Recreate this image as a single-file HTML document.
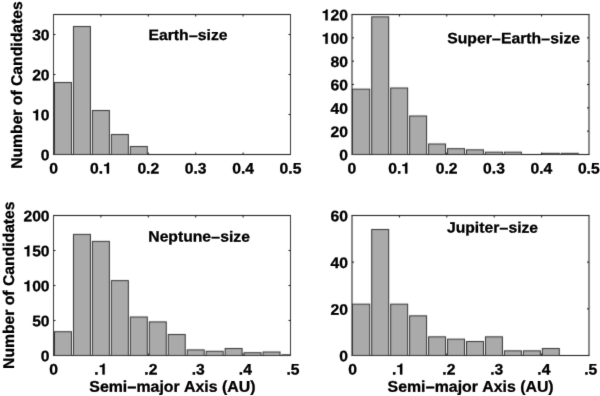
<!DOCTYPE html>
<html><head><meta charset="utf-8"><style>
html,body{margin:0;padding:0;background:#fff;width:600px;height:396px;overflow:hidden}
svg{display:block;will-change:transform}
.h{fill-opacity:0;stroke-opacity:0}
.g1{fill:#000;stroke:#000}
text{text-rendering:geometricPrecision;font-kerning:none;font-family:"Liberation Sans",sans-serif;font-weight:bold;fill:#000;stroke:#000;stroke-width:0.3px}
</style></head><body>
<svg width="600" height="396" viewBox="0 0 600 396">
<filter id="f" color-interpolation-filters="sRGB" filterUnits="userSpaceOnUse" x="0" y="0" width="600" height="396"><feConvolveMatrix order="3" kernelMatrix="0.01716 0.10868 0.01716 0.08568 0.54264 0.08568 0.01716 0.10868 0.01716" edgeMode="duplicate" preserveAlpha="true"/></filter>
<filter id="ft" color-interpolation-filters="sRGB" filterUnits="userSpaceOnUse" x="0" y="0" width="600" height="396"><feConvolveMatrix order="3" kernelMatrix="0.00640 0.06720 0.00640 0.06720 0.70560 0.06720 0.00640 0.06720 0.00640" edgeMode="duplicate" preserveAlpha="false"/></filter>
<g filter="url(#f)">
<rect width="600" height="396" fill="#fff"/>
<path d="M53.0 14.5H291.0M53.0 154.5H291.0" stroke="#111111" fill="none"/>
<path d="M53.5 14.5V154.5M290.5 14.5V154.5" stroke="#3a3a3a" fill="none"/>
<path d="M100.90 154.5v-2M100.90 14.5v2M148.30 154.5v-2M148.30 14.5v2M195.70 154.5v-2M195.70 14.5v2M243.10 154.5v-2M243.10 14.5v2M53.5 114.50h2M290.5 114.50h-2M53.5 74.50h2M290.5 74.50h-2M53.5 34.50h2M290.5 34.50h-2" stroke="#111111" fill="none"/>
<g fill="#aaaaaa" stroke="#333333"><rect x="54.50" y="82.50" width="16.96" height="72.00"/><rect x="73.46" y="26.50" width="16.96" height="128.00"/><rect x="92.42" y="110.50" width="16.96" height="44.00"/><rect x="111.38" y="134.50" width="16.96" height="20.00"/><rect x="130.34" y="146.50" width="16.96" height="8.00"/></g>
<path d="M351.5 14.5H589.5M351.5 154.5H589.5" stroke="#111111" fill="none"/>
<path d="M352.0 14.5V154.5M589.0 14.5V154.5" stroke="#111111" fill="none"/>
<path d="M399.40 154.5v-2M399.40 14.5v2M446.80 154.5v-2M446.80 14.5v2M494.20 154.5v-2M494.20 14.5v2M541.60 154.5v-2M541.60 14.5v2M352.0 131.17h2M589.0 131.17h-2M352.0 107.83h2M589.0 107.83h-2M352.0 84.50h2M589.0 84.50h-2M352.0 61.17h2M589.0 61.17h-2M352.0 37.83h2M589.0 37.83h-2" stroke="#111111" fill="none"/>
<g fill="#aaaaaa" stroke="#333333"><rect x="352.50" y="89.17" width="17.21" height="65.33"/><rect x="371.71" y="16.83" width="16.96" height="137.67"/><rect x="390.67" y="88.00" width="16.96" height="66.50"/><rect x="409.63" y="116.00" width="16.96" height="38.50"/><rect x="428.59" y="144.00" width="16.96" height="10.50"/><rect x="447.55" y="148.67" width="16.96" height="5.83"/><rect x="466.51" y="149.83" width="16.96" height="4.67"/><rect x="485.47" y="152.17" width="16.96" height="2.33"/><rect x="504.43" y="152.17" width="16.96" height="2.33"/><rect x="542.35" y="153.33" width="16.96" height="1.17"/><rect x="561.31" y="153.33" width="16.96" height="1.17"/></g>
<path d="M53.0 215.5H291.0M53.0 355.5H291.0" stroke="#111111" fill="none"/>
<path d="M53.5 215.5V355.5M290.5 215.5V355.5" stroke="#3a3a3a" fill="none"/>
<path d="M100.90 355.5v-2M100.90 215.5v2M148.30 355.5v-2M148.30 215.5v2M195.70 355.5v-2M195.70 215.5v2M243.10 355.5v-2M243.10 215.5v2M53.5 320.50h2M290.5 320.50h-2M53.5 285.50h2M290.5 285.50h-2M53.5 250.50h2M290.5 250.50h-2" stroke="#111111" fill="none"/>
<g fill="#aaaaaa" stroke="#333333"><rect x="54.50" y="331.70" width="16.96" height="23.80"/><rect x="73.46" y="234.40" width="16.96" height="121.10"/><rect x="92.42" y="241.40" width="16.96" height="114.10"/><rect x="111.38" y="280.60" width="16.96" height="74.90"/><rect x="130.34" y="317.00" width="16.96" height="38.50"/><rect x="149.30" y="321.90" width="16.96" height="33.60"/><rect x="168.26" y="334.50" width="16.96" height="21.00"/><rect x="187.22" y="349.90" width="16.96" height="5.60"/><rect x="206.18" y="351.30" width="16.96" height="4.20"/><rect x="225.14" y="348.50" width="16.96" height="7.00"/><rect x="244.10" y="352.70" width="16.96" height="2.80"/><rect x="263.06" y="352.00" width="16.96" height="3.50"/><rect x="282.02" y="354.80" width="8.48" height="0.70"/></g>
<path d="M351.5 215.5H589.5M351.5 355.5H589.5" stroke="#111111" fill="none"/>
<path d="M352.0 215.5V355.5M589.0 215.5V355.5" stroke="#111111" fill="none"/>
<path d="M399.40 355.5v-2M399.40 215.5v2M446.80 355.5v-2M446.80 215.5v2M494.20 355.5v-2M494.20 215.5v2M541.60 355.5v-2M541.60 215.5v2M352.0 308.83h2M589.0 308.83h-2M352.0 262.17h2M589.0 262.17h-2" stroke="#111111" fill="none"/>
<g fill="#aaaaaa" stroke="#333333"><rect x="352.50" y="304.17" width="17.21" height="51.33"/><rect x="371.71" y="229.50" width="16.96" height="126.00"/><rect x="390.67" y="304.17" width="16.96" height="51.33"/><rect x="409.63" y="315.83" width="16.96" height="39.67"/><rect x="428.59" y="336.83" width="16.96" height="18.67"/><rect x="447.55" y="339.17" width="16.96" height="16.33"/><rect x="466.51" y="341.50" width="16.96" height="14.00"/><rect x="485.47" y="336.83" width="16.96" height="18.67"/><rect x="504.43" y="350.83" width="16.96" height="4.67"/><rect x="523.39" y="350.83" width="16.96" height="4.67"/><rect x="542.35" y="348.50" width="16.96" height="7.00"/></g>
</g>
<g filter="url(#ft)"><text transform="translate(49.60 160.35) rotate(0.05) scale(1.0329 1)" font-size="15.2" text-anchor="end">0</text><text transform="translate(49.60 120.35) rotate(0.05) scale(1.0329 1)" font-size="15.2" text-anchor="end"><tspan class="h">1</tspan>0</text><path class="g1" transform="translate(32.14 120.35) scale(0.01570 -0.01520)" d="M378 0V709H285C263 625 190 582 68 582V489H238V0Z" stroke-width="19.7"/><text transform="translate(49.60 80.35) rotate(0.05) scale(1.0329 1)" font-size="15.2" text-anchor="end">20</text><text transform="translate(49.60 40.35) rotate(0.05) scale(1.0329 1)" font-size="15.2" text-anchor="end">30</text><text transform="translate(53.50 173.45) rotate(0.05) scale(1.0329 1)" font-size="15.2" text-anchor="middle">0</text><text transform="translate(100.90 173.45) rotate(0.05) scale(1.0329 1)" font-size="15.2" text-anchor="middle">0.<tspan class="h">1</tspan></text><path class="g1" transform="translate(103.08 173.45) scale(0.01570 -0.01520)" d="M378 0V709H285C263 625 190 582 68 582V489H238V0Z" stroke-width="19.7"/><text transform="translate(148.30 173.45) rotate(0.05) scale(1.0329 1)" font-size="15.2" text-anchor="middle">0.2</text><text transform="translate(195.70 173.45) rotate(0.05) scale(1.0329 1)" font-size="15.2" text-anchor="middle">0.3</text><text transform="translate(243.10 173.45) rotate(0.05) scale(1.0329 1)" font-size="15.2" text-anchor="middle">0.4</text><text transform="translate(290.50 173.45) rotate(0.05) scale(1.0329 1)" font-size="15.2" text-anchor="middle">0.5</text><text transform="translate(148.50 39.90) rotate(0.05) scale(1.0467 1)" font-size="15.0">Earth<tspan dy="1.2">−</tspan><tspan dy="-1.2">size</tspan></text><text transform="translate(347.90 160.35) rotate(0.05) scale(1.0329 1)" font-size="15.2" text-anchor="end">0</text><text transform="translate(347.90 137.02) rotate(0.05) scale(1.0329 1)" font-size="15.2" text-anchor="end">20</text><text transform="translate(347.90 113.68) rotate(0.05) scale(1.0329 1)" font-size="15.2" text-anchor="end">40</text><text transform="translate(347.90 90.35) rotate(0.05) scale(1.0329 1)" font-size="15.2" text-anchor="end">60</text><text transform="translate(347.90 67.02) rotate(0.05) scale(1.0329 1)" font-size="15.2" text-anchor="end">80</text><text transform="translate(347.90 43.68) rotate(0.05) scale(1.0329 1)" font-size="15.2" text-anchor="end"><tspan class="h">1</tspan>00</text><path class="g1" transform="translate(321.71 43.68) scale(0.01570 -0.01520)" d="M378 0V709H285C263 625 190 582 68 582V489H238V0Z" stroke-width="19.7"/><text transform="translate(347.90 20.35) rotate(0.05) scale(1.0329 1)" font-size="15.2" text-anchor="end"><tspan class="h">1</tspan>20</text><path class="g1" transform="translate(321.71 20.35) scale(0.01570 -0.01520)" d="M378 0V709H285C263 625 190 582 68 582V489H238V0Z" stroke-width="19.7"/><text transform="translate(351.80 173.45) rotate(0.05) scale(1.0329 1)" font-size="15.2" text-anchor="middle">0</text><text transform="translate(399.20 173.45) rotate(0.05) scale(1.0329 1)" font-size="15.2" text-anchor="middle">0.<tspan class="h">1</tspan></text><path class="g1" transform="translate(401.38 173.45) scale(0.01570 -0.01520)" d="M378 0V709H285C263 625 190 582 68 582V489H238V0Z" stroke-width="19.7"/><text transform="translate(446.60 173.45) rotate(0.05) scale(1.0329 1)" font-size="15.2" text-anchor="middle">0.2</text><text transform="translate(494.00 173.45) rotate(0.05) scale(1.0329 1)" font-size="15.2" text-anchor="middle">0.3</text><text transform="translate(541.40 173.45) rotate(0.05) scale(1.0329 1)" font-size="15.2" text-anchor="middle">0.4</text><text transform="translate(588.80 173.45) rotate(0.05) scale(1.0329 1)" font-size="15.2" text-anchor="middle">0.5</text><text transform="translate(447.30 43.26) rotate(0.05) scale(1.0467 1)" font-size="15.0">Super<tspan dy="1.2">−</tspan><tspan dy="-1.2">Earth</tspan><tspan dy="1.2">−</tspan><tspan dy="-1.2">size</tspan></text><text transform="translate(49.60 361.35) rotate(0.05) scale(1.0329 1)" font-size="15.2" text-anchor="end">0</text><text transform="translate(49.60 326.35) rotate(0.05) scale(1.0329 1)" font-size="15.2" text-anchor="end">50</text><text transform="translate(49.60 291.35) rotate(0.05) scale(1.0329 1)" font-size="15.2" text-anchor="end"><tspan class="h">1</tspan>00</text><path class="g1" transform="translate(23.41 291.35) scale(0.01570 -0.01520)" d="M378 0V709H285C263 625 190 582 68 582V489H238V0Z" stroke-width="19.7"/><text transform="translate(49.60 256.35) rotate(0.05) scale(1.0329 1)" font-size="15.2" text-anchor="end"><tspan class="h">1</tspan>50</text><path class="g1" transform="translate(23.41 256.35) scale(0.01570 -0.01520)" d="M378 0V709H285C263 625 190 582 68 582V489H238V0Z" stroke-width="19.7"/><text transform="translate(49.60 221.35) rotate(0.05) scale(1.0329 1)" font-size="15.2" text-anchor="end">200</text><text transform="translate(53.50 374.45) rotate(0.05) scale(1.0329 1)" font-size="15.2" text-anchor="middle">0</text><text transform="translate(100.90 374.45) rotate(0.05) scale(1.0329 1)" font-size="15.2" text-anchor="middle">.<tspan class="h">1</tspan></text><path class="g1" transform="translate(98.72 374.45) scale(0.01570 -0.01520)" d="M378 0V709H285C263 625 190 582 68 582V489H238V0Z" stroke-width="19.7"/><text transform="translate(150.90 374.45) rotate(0.05) scale(1.0329 1)" font-size="15.2" text-anchor="middle">.2</text><text transform="translate(198.20 374.45) rotate(0.05) scale(1.0329 1)" font-size="15.2" text-anchor="middle">.3</text><text transform="translate(245.40 374.45) rotate(0.05) scale(1.0329 1)" font-size="15.2" text-anchor="middle">.4</text><text transform="translate(293.00 374.45) rotate(0.05) scale(1.0329 1)" font-size="15.2" text-anchor="middle">.5</text><text transform="translate(148.30 241.56) rotate(0.05) scale(1.0467 1)" font-size="15.0">Neptune<tspan dy="1.2">−</tspan><tspan dy="-1.2">size</tspan></text><text transform="translate(347.90 361.35) rotate(0.05) scale(1.0329 1)" font-size="15.2" text-anchor="end">0</text><text transform="translate(347.90 314.68) rotate(0.05) scale(1.0329 1)" font-size="15.2" text-anchor="end">20</text><text transform="translate(347.90 268.02) rotate(0.05) scale(1.0329 1)" font-size="15.2" text-anchor="end">40</text><text transform="translate(347.90 221.35) rotate(0.05) scale(1.0329 1)" font-size="15.2" text-anchor="end">60</text><text transform="translate(352.50 374.45) rotate(0.05) scale(1.0329 1)" font-size="15.2" text-anchor="middle">0</text><text transform="translate(398.50 374.45) rotate(0.05) scale(1.0329 1)" font-size="15.2" text-anchor="middle">.<tspan class="h">1</tspan></text><path class="g1" transform="translate(396.32 374.45) scale(0.01570 -0.01520)" d="M378 0V709H285C263 625 190 582 68 582V489H238V0Z" stroke-width="19.7"/><text transform="translate(448.90 374.45) rotate(0.05) scale(1.0329 1)" font-size="15.2" text-anchor="middle">.2</text><text transform="translate(496.80 374.45) rotate(0.05) scale(1.0329 1)" font-size="15.2" text-anchor="middle">.3</text><text transform="translate(543.90 374.45) rotate(0.05) scale(1.0329 1)" font-size="15.2" text-anchor="middle">.4</text><text transform="translate(590.80 374.45) rotate(0.05) scale(1.0329 1)" font-size="15.2" text-anchor="middle">.5</text><text transform="translate(446.90 232.56) rotate(0.05) scale(1.0467 1)" font-size="15.0">Jupiter<tspan dy="1.2">−</tspan><tspan dy="-1.2">size</tspan></text><text transform="translate(22.05 85.10) rotate(-89.95) scale(1.0129 1)" font-size="15.5" text-anchor="middle">Number of Candidates</text><text transform="translate(14.05 285.20) rotate(-89.95) scale(1.0129 1)" font-size="15.5" text-anchor="middle">Number of Candidates</text><text transform="translate(172.40 391.70) rotate(0.05) scale(1.0226 1)" font-size="15.5" text-anchor="middle">Semi<tspan dy="1.2">−</tspan><tspan dy="-1.2">major Axis (AU)</tspan></text><text transform="translate(470.60 391.70) rotate(0.05) scale(1.0226 1)" font-size="15.5" text-anchor="middle">Semi<tspan dy="1.2">−</tspan><tspan dy="-1.2">major Axis (AU)</tspan></text></g>
</svg></body></html>
